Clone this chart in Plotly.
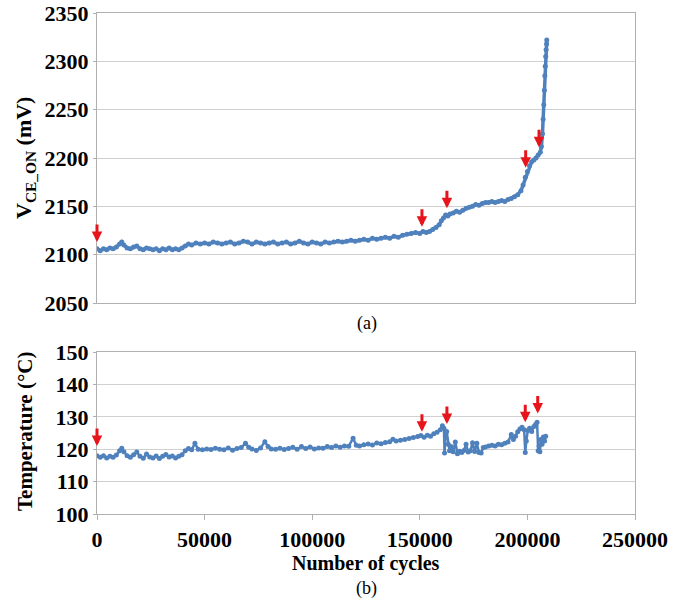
import plotly.graph_objects as go

# ---- Data ----
vce_cycles = [0, 1500, 3000, 4500, 6000, 7500, 9000, 10500, 11500, 12500, 14000, 15500, 17000, 18500,
              20000, 21500, 23000, 24500, 26000, 27500, 29000, 30500, 32000, 33500, 35000, 36500, 38000,
              39500, 41000, 42500, 44000, 46000, 48000, 50000, 52000, 54000, 56000, 58000, 60000, 62000,
              64000, 66000, 68000, 70000, 72000, 74000, 76000, 78000, 80000, 82000, 84000, 86000, 88000,
              90000, 92000, 94000, 96000, 98000, 100000, 102000, 104000, 106000, 108000, 110000, 112000,
              114000, 116000, 118000, 120000, 122000, 124000, 126000, 128000, 130000, 132000, 134000,
              136000, 138000, 140000, 142000, 144000, 146000, 148000, 150000, 151500, 153000, 154500,
              156000, 157500, 159000, 160000, 161000, 162000, 163000, 164000, 165500, 167000, 168500,
              170000, 171500, 173000, 174500, 176000, 177500, 179000, 180500, 182000, 183500, 185000,
              186500, 188000, 189500, 191000, 192500, 194000, 195500, 197000, 198000, 199000, 200000,
              201000, 202000, 203000, 204000, 205000, 206000, 206500, 207000, 207300, 207600, 207900,
              208100, 208300, 208500, 208700, 208900, 209000]
vce_mv = [2106, 2104, 2106, 2105, 2107, 2106, 2108, 2111, 2113, 2110, 2107, 2106, 2108, 2109,
          2106, 2105, 2107, 2106, 2105, 2106, 2104, 2106, 2105, 2107, 2105, 2106, 2105,
          2107, 2109, 2111, 2110, 2112, 2111, 2112, 2111, 2113, 2112, 2111, 2112, 2113,
          2111, 2112, 2114, 2113, 2111, 2113, 2112, 2111, 2112, 2113, 2111, 2112, 2113,
          2111, 2112, 2114, 2112, 2111, 2113, 2112, 2111, 2113, 2112, 2113, 2114,
          2113, 2114, 2115, 2114, 2115, 2116, 2115, 2117, 2116, 2117, 2118,
          2117, 2119, 2118, 2120, 2121, 2122, 2123, 2122, 2124, 2123, 2124,
          2126, 2128, 2131, 2135, 2138, 2141, 2140, 2142, 2143, 2145, 2144,
          2146, 2148, 2149, 2150, 2152, 2151, 2153, 2154, 2154, 2155, 2154,
          2155, 2156, 2155, 2157, 2158, 2160, 2162, 2166, 2172, 2180, 2186,
          2192, 2196, 2198, 2200, 2203, 2206, 2212, 2225, 2240, 2255, 2270,
          2285, 2295, 2305, 2312, 2318, 2322]

temp_cycles = [0, 1500, 3000, 4500, 6000, 7500, 9000, 10500, 11500, 12500, 14000, 15500, 17000, 18500,
               20000, 21500, 23000, 24500, 26000, 27500, 29000, 30500, 32000, 33500, 35000, 36500, 38000,
               39500, 41000, 42500, 44000, 45500, 47000, 49000, 51000, 53000, 55000, 57000, 59000, 61000,
               63000, 65000, 67000, 69000, 70500, 72000, 74000, 76000, 78000, 79500, 81000, 83000, 85000,
               87000, 89000, 91000, 93000, 95000, 97000, 99000, 101000, 103000, 105000, 107000, 109000,
               111000, 113000, 115000, 117000, 119000, 120500, 122000, 124000, 126000, 128000, 130000,
               132000, 134000, 136000, 137500, 139000, 141000, 143000, 145000, 147000, 149000, 150500,
               152000, 153500, 155000, 156500, 158000, 159500, 160500, 161200, 161500, 162000, 162500,
               163200, 163800, 164500, 165500, 166500, 167500, 168500, 169500, 170500, 171500, 172500,
               173500, 174500, 175500, 176500, 177500, 178500, 179500, 180500, 182000, 183500, 185000,
               186500, 188000, 189500, 191000, 192500, 193500, 194500, 195500, 196500, 197500, 198500,
               199000, 199500, 200200, 201000, 202000, 203000, 203800, 204500, 205000, 205400, 205800,
               206200, 206800, 207400, 208000, 208500]
temp_c = [118.0, 117.5, 118.0, 117.3, 117.8, 117.5, 118.2, 119.5, 120.3, 119.2, 118.0, 117.5, 118.3, 119.1,
          117.8, 117.2, 118.5, 117.6, 117.3, 117.9, 117.1, 117.8, 118.4, 117.6, 117.9, 117.3, 117.8,
          118.3, 119.5, 120.2, 119.8, 121.8, 120.0, 119.8, 120.1, 119.9, 120.3, 120.0, 119.8, 120.4,
          119.7, 120.2, 120.5, 121.8, 120.6, 120.1, 119.6, 120.4, 122.3, 120.8, 120.1, 120.0, 120.3,
          119.9, 120.2, 120.6, 120.0, 120.8, 120.2, 120.7, 120.1, 120.4, 120.3, 120.8, 120.5,
          121.0, 120.6, 121.0, 120.9, 123.4, 121.2, 121.0, 121.4, 121.6, 121.3, 121.9,
          121.7, 122.1, 122.3, 123.1, 122.5, 122.8, 123.0, 123.3, 123.6, 123.9, 124.2,
          123.7, 124.3, 124.0, 124.8, 125.2, 126.0, 127.2, 126.5, 118.8, 124.5, 125.5,
          121.5, 119.5, 120.8, 119.2, 122.2, 118.6, 119.4, 119.0, 119.6, 121.5, 119.1,
          119.5, 122.0, 119.3, 121.8, 119.0, 118.8, 120.5, 120.7, 121.0, 121.2, 121.0,
          121.5, 121.4, 121.8, 122.2, 124.5, 123.0, 124.0, 125.4, 126.2, 126.8, 126.0,
          119.0, 122.5, 125.8, 126.5, 125.5, 127.0, 127.6, 128.3, 119.5, 121.0, 119.2,
          123.0, 121.5, 123.8, 122.5, 124.0]

# arrow tips (cycles, value)
vce_arrow_x = [0, 151000, 162600, 199200, 205400]
vce_arrow_y = [2113, 2129, 2148, 2190, 2211]
temp_arrow_x = [0, 151000, 162600, 199000, 204800]
temp_arrow_y = [121.0, 125.4, 127.8, 128.3, 131.0]

x_ticks = [0, 50000, 100000, 150000, 200000, 250000]
vce_ticks = [2050, 2100, 2150, 2200, 2250, 2300, 2350]
temp_ticks = [100, 110, 120, 130, 140, 150]

BLUE = "#4F81BD"
GRID = "#d0d0d0"
AXLINE = "#b0b0b0"
FONT = "Liberation Serif"
W, H = 689, 601


def bold(vals):
    return ["<b>%d</b>" % v for v in vals]


fig = go.Figure()
fig.add_trace(go.Scatter(x=vce_cycles, y=vce_mv, mode="lines+markers",
                         line=dict(color=BLUE, width=3.5), marker=dict(color=BLUE, size=5),
                         xaxis="x", yaxis="y", showlegend=False))
fig.add_trace(go.Scatter(x=temp_cycles, y=temp_c, mode="lines+markers",
                         line=dict(color=BLUE, width=2.5), marker=dict(color=BLUE, size=5),
                         xaxis="x2", yaxis="y2", showlegend=False))

xd = [97 / W, 635 / W]
tickfont = dict(family=FONT, size=22, color="black")

ann = []
for xa, ya in zip(vce_arrow_x, vce_arrow_y):
    ann.append(dict(x=xa, y=ya, xref="x", yref="y", text="", showarrow=True, ax=0, ay=-19,
                    arrowcolor="#e8141b", arrowwidth=3, arrowhead=2, arrowsize=0.7))
for xa, ya in zip(temp_arrow_x, temp_arrow_y):
    ann.append(dict(x=xa, y=ya, xref="x2", yref="y2", text="", showarrow=True, ax=0, ay=-19,
                    arrowcolor="#e8141b", arrowwidth=3, arrowhead=2, arrowsize=0.7))

common = dict(xref="paper", yref="paper", showarrow=False, xanchor="center", yanchor="middle")
ann += [
    dict(text="<b>V<sub>CE_ON</sub> (mV)</b>", x=25 / W, y=1 - 158 / H, textangle=-90,
         font=dict(family=FONT, size=22, color="black"), **common),
    dict(text="<b>Temperature (°C)</b>", x=25 / W, y=1 - 432 / H, textangle=-90,
         font=dict(family=FONT, size=21, color="black"), **common),
    dict(text="<b>Number of cycles</b>", x=366 / W, y=1 - 563 / H,
         font=dict(family=FONT, size=20, color="black"), **common),
    dict(text="(a)", x=367 / W, y=1 - 323 / H,
         font=dict(family=FONT, size=18, color="black"), **common),
    dict(text="(b)", x=366 / W, y=1 - 588 / H,
         font=dict(family=FONT, size=18, color="black"), **common),
]

fig.update_layout(
    template="none",
    width=W, height=H, margin=dict(l=0, r=0, t=0, b=0, pad=0),
    paper_bgcolor="white", plot_bgcolor="white",
    font=dict(family=FONT, color="black"),
    xaxis=dict(domain=xd, range=[0, 250000], tickvals=x_ticks, showticklabels=False,
               showgrid=False, showline=True, linecolor=AXLINE, mirror=True, zeroline=False,
               automargin=False, anchor="y"),
    yaxis=dict(domain=[1 - 303 / H, 1 - 13 / H], range=[2050, 2350], tickvals=vce_ticks,
               ticktext=bold(vce_ticks),
               showgrid=True, gridcolor=GRID, showline=True, linecolor=AXLINE, mirror=True,
               ticks="outside", ticklen=3, tickcolor=AXLINE, zeroline=False,
               tickfont=tickfont, automargin=False, anchor="x"),
    xaxis2=dict(domain=xd, range=[0, 250000], tickvals=x_ticks, ticktext=bold(x_ticks),
                showgrid=False, showline=True, linecolor=AXLINE, mirror=True, zeroline=False,
                ticks="outside", ticklen=5, tickcolor=AXLINE, tickfont=tickfont,
                ticklabelstandoff=1, automargin=False, anchor="y2"),
    yaxis2=dict(domain=[1 - 514 / H, 1 - 352 / H], range=[100, 150], tickvals=temp_ticks,
                ticktext=bold(temp_ticks),
                showgrid=True, gridcolor=GRID, showline=True, linecolor=AXLINE, mirror=True,
                ticks="outside", ticklen=3, tickcolor=AXLINE, zeroline=False,
                tickfont=tickfont, automargin=False, anchor="x2"),
    annotations=ann,
)

fig.write_html("out.html")
